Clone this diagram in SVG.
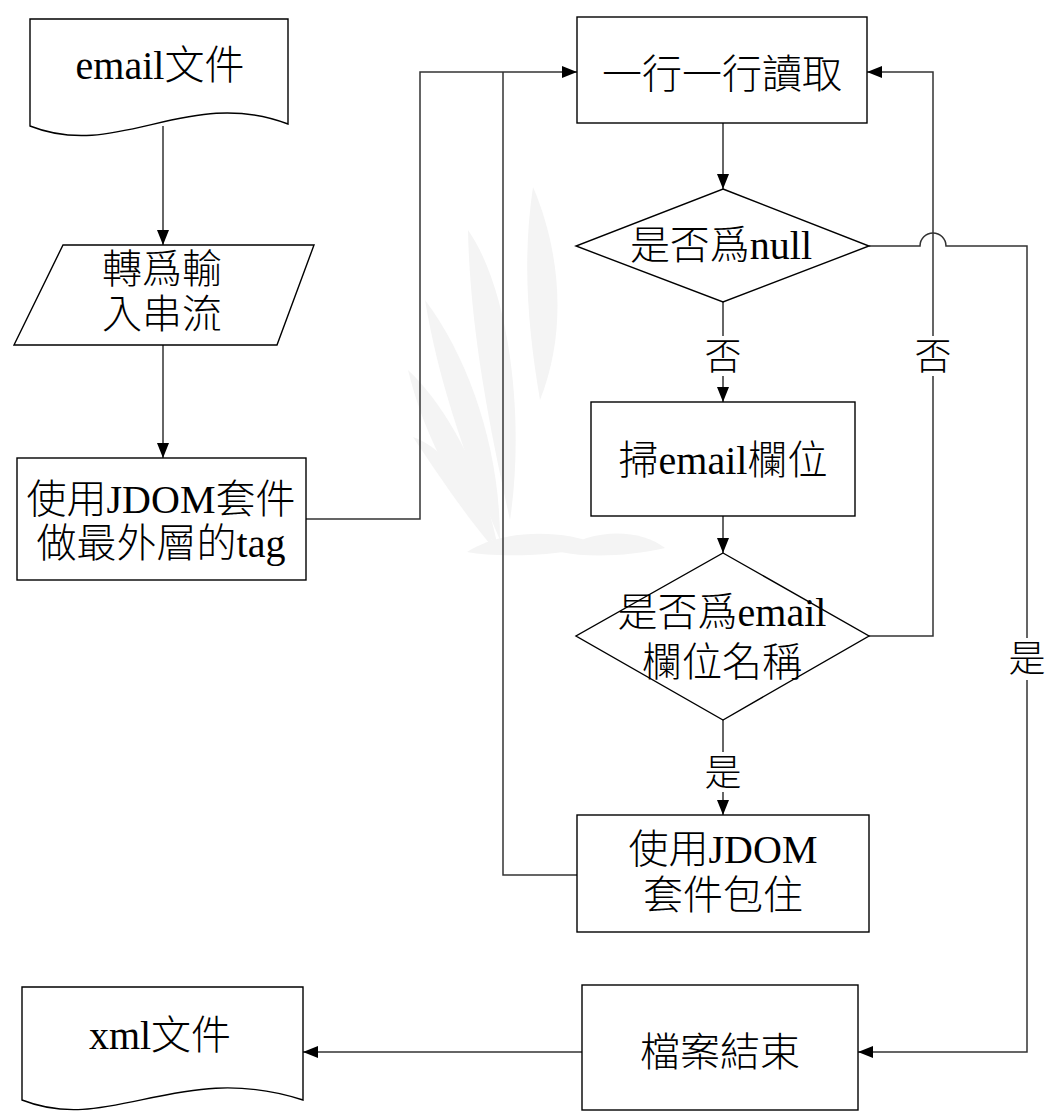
<svg xmlns="http://www.w3.org/2000/svg" width="1047" height="1112" viewBox="0 0 1047 1112">
<style>
.shape{fill:#fff;stroke:#000;stroke-width:1.4}
.conn{fill:none;stroke:#333;stroke-width:1.5}
.t{font-family:"Liberation Serif","Noto Sans CJK TC",serif;font-size:40px;font-weight:300;fill:#000;text-anchor:middle}
.lbl{font-family:"Liberation Serif","Noto Sans CJK TC",serif;font-size:37px;font-weight:300;fill:#000;text-anchor:middle}
.wm{fill:#f4f4f4;stroke:none}
</style>
<defs>
<marker id="arr" markerWidth="16" markerHeight="12" refX="15" refY="6" orient="auto" markerUnits="userSpaceOnUse">
<path d="M0,0 L15,6 L0,12 Z" fill="#000"/>
</marker>
</defs>
<rect width="1047" height="1112" fill="#fff"/>
<g id="watermark">
<path class="wm" d="M533,187 C560,250 568,330 540,400 C528,330 522,260 533,187 Z"/>
<path class="wm" d="M468,230 C510,290 525,420 510,520 C490,430 470,330 468,230 Z"/>
<path class="wm" d="M425,300 C470,360 500,450 500,540 C470,470 440,390 425,300 Z"/>
<path class="wm" d="M408,370 C450,410 485,480 498,548 C460,500 425,440 408,370 Z"/>
<path class="wm" d="M413,437 C450,450 480,500 495,550 C465,515 435,470 413,437 Z"/>
<path class="wm" d="M467,552 C500,530 560,528 600,545 C560,556 500,558 467,552 Z"/>
<path class="wm" d="M560,552 C590,528 640,528 665,548 C630,556 590,558 560,552 Z"/>
</g>
<g id="connectors">
<path class="conn" d="M163,126 V245" marker-end="url(#arr)"/>
<path class="conn" d="M163,345 V458" marker-end="url(#arr)"/>
<path class="conn" d="M306,519 H420 V72 H577" marker-end="url(#arr)"/>
<path class="conn" d="M577,875 H503 V72"/>
<path class="conn" d="M723,123 V189" marker-end="url(#arr)"/>
<path class="conn" d="M723,302 V402" marker-end="url(#arr)"/>
<path class="conn" d="M723,516 V553" marker-end="url(#arr)"/>
<path class="conn" d="M723,720 V815" marker-end="url(#arr)"/>
<path class="conn" d="M869,636 H933 V72 H867" marker-end="url(#arr)"/>
<path class="conn" d="M869,246 H920 A13,13 0 0 1 946,246 H1027 V1052 H858" marker-end="url(#arr)"/>
<path class="conn" d="M582,1052 H303" marker-end="url(#arr)"/>
<rect x="705" y="336" width="36" height="40" fill="#fff"/>
<text class="lbl" x="723" y="370">否</text>
<rect x="915" y="336" width="36" height="40" fill="#fff"/>
<text class="lbl" x="933" y="370">否</text>
<rect x="705" y="752" width="36" height="40" fill="#fff"/>
<text class="lbl" x="723" y="786">是</text>
<rect x="1009" y="638" width="36" height="42" fill="#fff"/>
<text class="lbl" x="1027" y="672">是</text>
</g>
<g id="n_email">
<path class="shape" d="M30,19 H288 V124 C188,86 118,161 30,126 Z"/>
<text class="t" x="160" y="79">email文件</text>
</g>
<g id="n_stream">
<path class="shape" d="M63,245 H314 L277,345 H14 Z"/>
<text class="t" x="162" y="283">轉爲輸</text>
<text class="t" x="162" y="328">入串流</text>
</g>
<g id="n_jdom_outer">
<rect class="shape" x="17" y="458" width="289" height="122"/>
<text class="t" x="161" y="513">使用JDOM套件</text>
<text class="t" x="161" y="557">做最外層的tag</text>
</g>
<g id="n_readline">
<rect class="shape" x="577" y="17" width="290" height="106"/>
<text class="t" x="722" y="88">一行一行讀取</text>
</g>
<g id="n_isnull">
<path class="shape" d="M723,189 L869,246 L723,302 L576,246 Z"/>
<text class="t" x="721" y="259">是否爲null</text>
</g>
<g id="n_scan">
<rect class="shape" x="591" y="402" width="264" height="114"/>
<text class="t" x="723" y="474">掃email欄位</text>
</g>
<g id="n_isfield">
<path class="shape" d="M723,553 L869,636 L723,720 L576,636 Z"/>
<text class="t" x="722" y="626">是否爲email</text>
<text class="t" x="722" y="676">欄位名稱</text>
</g>
<g id="n_wrap">
<rect class="shape" x="577" y="815" width="292" height="117"/>
<text class="t" x="723" y="863">使用JDOM</text>
<text class="t" x="723" y="909">套件包住</text>
</g>
<g id="n_eof">
<rect class="shape" x="582" y="985" width="276" height="125"/>
<text class="t" x="720" y="1066">檔案結束</text>
</g>
<g id="n_xml">
<path class="shape" d="M22,987 H303 V1100 C180,1060 110,1135 22,1100 Z"/>
<text class="t" x="160" y="1049">xml文件</text>
</g>
</svg>
